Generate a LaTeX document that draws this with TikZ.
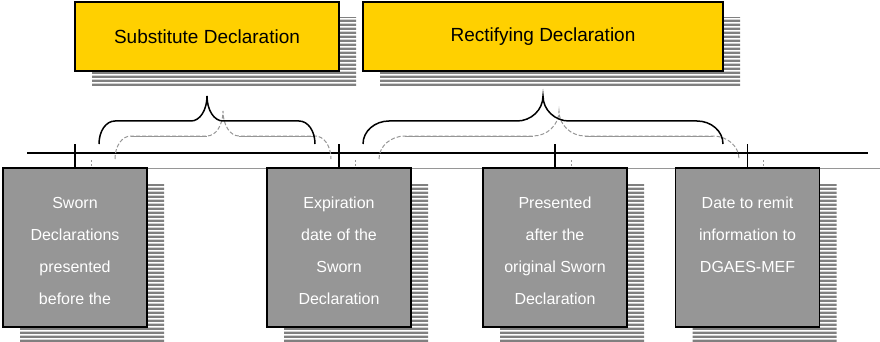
\documentclass[tikz,border=0pt]{standalone}
\usepackage{fontspec}
\setmainfont{Liberation Sans}
\usepackage{xcolor}
\usetikzlibrary{positioning,patterns,shadows}

\definecolor{declyellow}{RGB}{255,208,0}
\definecolor{boxgray}{RGB}{150,150,150}
\definecolor{stripegray}{RGB}{128,128,128}
\definecolor{lightline}{RGB}{150,150,150}

% horizontal stripes for the drop shadows (wide tile, no vertical seams)
\pgfdeclarepatternformonly{shadowstripes}{\pgfqpoint{0pt}{0pt}}{\pgfqpoint{900pt}{4pt}}{\pgfqpoint{900pt}{4pt}}{%
  \pgfpathrectangle{\pgfqpoint{0pt}{0pt}}{\pgfqpoint{900pt}{3pt}}\pgfusepath{fill}}

\tikzset{
  stripeshadow/.style={general shadow={shadow xshift=17pt, shadow yshift=-16pt,
      pattern=shadowstripes, pattern color=stripegray}},
  decl/.style={stripeshadow, draw=black, line width=1.4pt, fill=declyellow,
      minimum width=264pt, minimum height=69pt, inner sep=0pt,
      font=\fontsize{19}{23}\selectfont},
  event/.style={stripeshadow, draw=black, line width=1.8pt, fill=boxgray,
      minimum width=144pt, minimum height=159pt, inner sep=0pt},
  eventtext/.style={text=white, align=center, anchor=north, inner sep=0pt,
      font=\fontsize{16}{32}\selectfont, execute at begin node=\strut},
  timeline/.style={line width=1.1pt},
  brace/.style={line width=1.5pt},
  shadowline/.style={draw=lightline, line width=1pt},
  shadowcurve/.style={shadowline, dash pattern=on 4pt off 2pt},
  shadowtick/.style={shadowline, dash pattern=on 2pt off 2pt},
}

\begin{document}
\begin{tikzpicture}[x=1pt, y=-1pt]
    \useasboundingbox (0,0) rectangle (880,342);

    % Time line with its grey copy
    \coordinate (lineL) at (27,153);
    \coordinate (lineR) at (868,153);
    \coordinate (greyL) at (43,168);
    \coordinate (greyR) at (880,168);
    \draw[shadowline] (greyL) -- (greyR);
    \draw[timeline] (lineL) -- (lineR);

    % Declaration types
    \node[decl] (subst) at (207,36.5) {Substitute Declaration};
    \node[decl, minimum width=360pt] (rect) at (543,36.5) {Rectifying Declaration};

    % Events under the time line
    \node[event] (b1) at (75,247.5) {};
    \node[event] (b2) at (339,247.5) {};
    \node[event] (b3) at (555,247.5) {};
    \node[event] (b4) at (747.5,247.5) {};

    \node[eventtext] (e1) at ([yshift=-30pt]b1.north) {Sworn\\Declarations\\presented\\before the};
    \node[eventtext] (e2) at ([yshift=-30pt]b2.north) {Expiration\\date of the\\Sworn\\Declaration};
    \node[eventtext] (e3) at ([yshift=-30pt]b3.north) {Presented\\after the\\original Sworn\\Declaration};
    \node[eventtext] (e4) at ([yshift=-30pt]b4.north) {Date to remit\\information to\\DGAES-MEF};

    % Ticks
    \foreach \i/\x in {1/75, 2/339, 3/555, 4/747.5} {
        \coordinate (k\i) at (\x,144);
        \draw[shadowtick] ([shift={(16,16)}]k\i) -- ++(0,8);
        \draw[timeline] (k\i) -- (b\i.north);
    }

    % Braces, grey copy first
    \begin{scope}[shift={(16,15)}]
        \draw[shadowcurve] (99,144) .. controls (99,131) and (106,121) .. (115,121) -- (191,121)
            .. controls (200,121) and (207,110) .. (207,96)
            .. controls (207,110) and (214,121) .. (223,121) -- (299,121)
            .. controls (308,121) and (315,131) .. (315,144);
        \draw[shadowline] (115,121) -- (191,121) (223,121) -- (299,121);
        \draw[shadowcurve] (363,144) .. controls (363,131) and (375,121) .. (389,121) -- (517,121)
            .. controls (531,121) and (543,110) .. (543,96)
            .. controls (543,110) and (555,121) .. (569,121) -- (697,121)
            .. controls (711,121) and (723,131) .. (723,144);
        \draw[shadowline] (389,121) -- (517,121) (569,121) -- (697,121);
    \end{scope}

    \draw[brace] (99,144) .. controls (99,131) and (106,121) .. (115,121) -- (191,121)
        .. controls (200,121) and (207,110) .. (207,96)
        .. controls (207,110) and (214,121) .. (223,121) -- (299,121)
        .. controls (308,121) and (315,131) .. (315,144);
    \draw[brace] (363,144) .. controls (363,131) and (375,121) .. (389,121) -- (517,121)
        .. controls (531,121) and (543,110) .. (543,96)
        .. controls (543,110) and (555,121) .. (569,121) -- (697,121)
        .. controls (711,121) and (723,131) .. (723,144);

\end{tikzpicture}
\end{document}
